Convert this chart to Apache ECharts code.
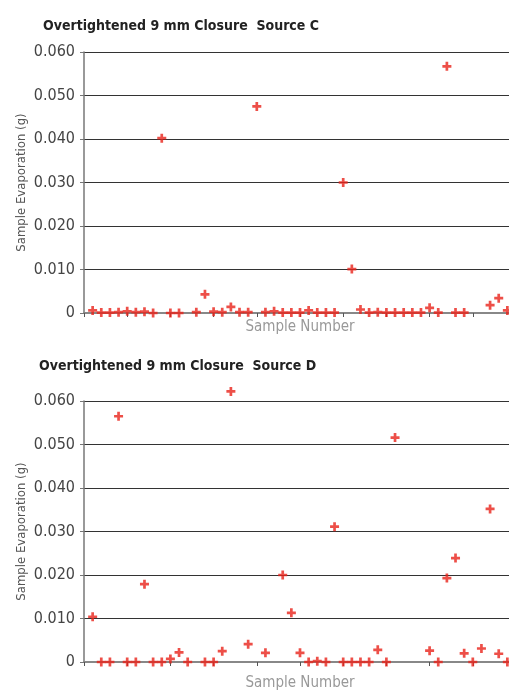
<!DOCTYPE html>
<html>
<head>
<meta charset="utf-8">
<script src="https://cdn.jsdelivr.net/npm/echarts@6/dist/echarts.min.js"></script>
<style>
  html, body { margin: 0; padding: 0; background: #fff; }
  #chart { width: 509px; height: 692px; }
</style>
</head>
<body>
<div id="chart"></div>
<script>
// Source C: sample numbers and evaporation (g)
const samplesC = [1,2,3,4,5,6,7,8,9,10,11,13,14,15,16,17,18,19,20,21,22,23,24,25,26,27,28,29,30,31,32,33,34,35,36,37,38,39,40,41,42,43,44,47,48,49];
const valuesC  = [0.0006,0.0001,0.0001,0.0002,0.0004,0.0002,0.0003,0,0.0402,0,0,0.0002,0.0043,0.0003,0.0002,0.0014,0.0002,0.0002,0.0475,0.0002,0.0004,0.0001,0.0001,0.0001,0.0006,0.0001,0.0001,0.0001,0.0300,0.0101,0.0008,0.0001,0.0002,0.0001,0.0001,0.0001,0.0001,0.0001,0.0012,0.0001,0.0567,0.0001,0.0001,0.0018,0.0034,0.0006];

// Source D
const samplesD = [1,2,3,4,5,6,7,8,9,10,11,12,14,15,16,17,19,21,23,24,25,26,27,28,29,30,31,32,33,34,35,36,40,41,42,43,44,45,46,47,48,49];
const valuesD  = [0.0104,0,0,0.0565,0,0,0.0179,0,0,0.0007,0.0022,0,0,0,0.0025,0.0622,0.0041,0.0021,0.0200,0.0113,0.0021,0,0.0002,0,0.0311,0,0,0,0,0.0028,0,0.0516,0.0026,0,0.0193,0.0239,0.0020,0,0.0031,0.0352,0.0019,0];

const yTicks = [0, 0.01, 0.02, 0.03, 0.04, 0.05, 0.06];
const titles = ['Overtightened 9 mm Closure  Source C', 'Overtightened 9 mm Closure  Source D'];

const FONT = "'Liberation Sans Narrow', 'DejaVu Sans Condensed', sans-serif";
const plus = 'path://M3.5,0h3v3.5h3.5v3h-3.5v3.5h-3v-3.5h-3.5v-3h3.5z';

const chart = echarts.init(document.getElementById('chart'));

function xAxisFor(i, gap) {
  return {
    type: 'value', gridIndex: i, min: 0, max: 50, interval: 5,
    name: 'Sample Number', nameLocation: 'middle', nameGap: gap,
    nameTextStyle: { color: '#999', fontSize: 15, fontFamily: FONT },
    axisLine: { lineStyle: { color: '#888', width: 2 } },
    axisTick: { show: true, length: 4, lineStyle: { color: '#555' } },
    axisLabel: { show: false },
    splitLine: { show: false }
  };
}

function yAxisFor(i) {
  return {
    type: 'value', gridIndex: i, min: yTicks[0], max: yTicks[yTicks.length - 1], interval: 0.01,
    name: 'Sample Evaporation (g)', nameLocation: 'middle', nameGap: 56, nameMoveOverlap: false,
    nameTextStyle: { color: '#555', fontSize: 13, fontFamily: FONT },
    axisLine: { show: true, lineStyle: { color: '#777', width: 1.5 } },
    axisTick: { show: true, length: 4, lineStyle: { color: '#777' } },
    axisLabel: {
      color: '#444', fontSize: 16, fontFamily: FONT, margin: 9,
      formatter: v => v === 0 ? '0' : v.toFixed(3)
    },
    splitLine: { show: true, lineStyle: { color: '#333', width: 1 } }
  };
}

function series(i, xs, ys) {
  return {
    type: 'scatter', xAxisIndex: i, yAxisIndex: i,
    data: xs.map((x, k) => [x, ys[k]]),
    symbol: plus, symbolSize: 9, clip: false,
    itemStyle: { color: '#e8231a' }
  };
}

chart.setOption({
  animation: false,
  title: [
    { text: titles[0], left: 38, top: 14, textStyle: { fontSize: 14, fontWeight: 'bold', color: '#222', fontFamily: FONT } },
    { text: titles[1], left: 34, top: 354, textStyle: { fontSize: 14, fontWeight: 'bold', color: '#222', fontFamily: FONT } }
  ],
  grid: [
    { left: 84, width: 432, top: 52, height: 261, outerBoundsMode: 'none' },
    { left: 84, width: 432, top: 401, height: 261, outerBoundsMode: 'none' }
  ],
  xAxis: [xAxisFor(0, 7), xAxisFor(1, 14)],
  yAxis: [yAxisFor(0), yAxisFor(1)],
  series: [series(0, samplesC, valuesC), series(1, samplesD, valuesD)]
});
</script>
</body>
</html>
